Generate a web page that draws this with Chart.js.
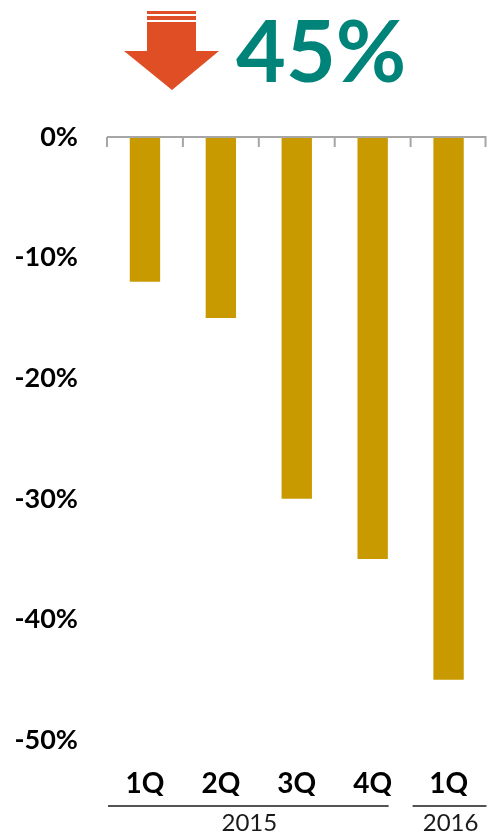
<!DOCTYPE html>
<html>
<head>
<meta charset="utf-8">
<script src="https://cdn.jsdelivr.net/npm/chart.js@4/dist/chart.umd.min.js"></script>
<style>
  html, body { margin: 0; padding: 0; background: #fff; }
  #wrap { position: relative; width: 495px; height: 836px; }
</style>
</head>
<body>
<div id="wrap"><canvas id="chart"></canvas></div>
<script>
// quarterly change
const categories = ['1Q', '2Q', '3Q', '4Q', '1Q'];
const values = [-12, -15, -30, -35, -45];
const yearLabels = ['2015', '2016'];
const yearSpans = [[0, 3], [4, 4]];
const headline = '45%';

const FONT = 'Lato, "Open Sans", sans-serif';

// header: red arrow + big teal number
const headerPlugin = {
    id: 'header',
    afterDraw(chart) {
        const ctx = chart.ctx;
        ctx.save();
        ctx.fillStyle = '#E04E26';
        ctx.fillRect(147, 11, 49, 3);
        ctx.fillRect(147, 16, 49, 4);
        ctx.beginPath();
        ctx.moveTo(147, 22);
        ctx.lineTo(196, 22);
        ctx.lineTo(196, 51);
        ctx.lineTo(219, 51);
        ctx.lineTo(172, 90);
        ctx.lineTo(124, 51);
        ctx.lineTo(147, 51);
        ctx.closePath();
        ctx.fill();

        ctx.fillStyle = '#00847A';
        ctx.font = 'bold 86px ' + FONT;
        ctx.textAlign = 'left';
        ctx.textBaseline = 'alphabetic';
        ctx.fillText(headline, 236, 82);
        ctx.restore();
    }
};

// zero line with tick marks between categories, plus year grouping under the axis
const axisPlugin = {
    id: 'axisDecor',
    afterDatasetsDraw(chart) {
        const ctx = chart.ctx;
        const x = chart.scales.x;
        const y = chart.scales.y;
        const y0 = y.getPixelForValue(0);
        const step = (x.right - x.left) / categories.length;

        ctx.save();
        ctx.strokeStyle = '#A6A6A6';
        ctx.lineWidth = 2;
        ctx.beginPath();
        ctx.moveTo(x.left, y0);
        ctx.lineTo(x.right, y0);
        for (let i = 0; i <= categories.length; i++) {
            const px = Math.min(x.left + i * step, x.right - 1);
            ctx.moveTo(px, y0);
            ctx.lineTo(px, y0 + 10);
        }
        ctx.stroke();

        // year groups
        const insets = [[1, 22], [2, 0]];
        const lineY = 806;
        ctx.strokeStyle = '#1a1a1a';
        ctx.lineWidth = 1.5;
        ctx.fillStyle = '#1a1a1a';
        ctx.font = '24px ' + FONT;
        ctx.textAlign = 'center';
        ctx.textBaseline = 'middle';
        yearSpans.forEach((span, i) => {
            const x1 = x.left + span[0] * step + insets[i][0];
            const x2 = x.left + (span[1] + 1) * step - insets[i][1];
            ctx.beginPath();
            ctx.moveTo(x1, lineY);
            ctx.lineTo(x2, lineY);
            ctx.stroke();
            ctx.fillText(yearLabels[i], (x1 + x2) / 2 + 1, 823);
        });
        ctx.restore();
    }
};

new Chart(document.getElementById('chart').getContext('2d'), {
    type: 'bar',
    data: {
        labels: categories,
        datasets: [{
            data: values,
            backgroundColor: '#C99A00',
            borderWidth: 0,
            barPercentage: 0.4,
            categoryPercentage: 1
        }]
    },
    options: {
        responsive: true,
        maintainAspectRatio: false,
        animation: false,
        layout: { padding: { top: 137, bottom: 40, left: 0, right: 0 } },
        plugins: {
            legend: { display: false },
            tooltip: { enabled: false }
        },
        scales: {
            x: {
                grid: { display: false, drawTicks: false },
                border: { display: false },
                ticks: {
                    color: '#000',
                    font: { family: FONT, size: 28, weight: 'bold' },
                    padding: 27,
                    maxRotation: 0
                },
                afterFit(s) { s.height = 56; }
            },
            y: {
                min: -50,
                max: 0,
                grid: { display: false, drawTicks: false },
                border: { display: false },
                ticks: {
                    stepSize: 10,
                    color: '#000',
                    font: { family: FONT, size: 27, weight: 'bold' },
                    padding: 29,
                    callback: v => v + '%'
                },
                afterFit(s) { s.width = 107; }
            }
        }
    },
    plugins: [headerPlugin, axisPlugin]
});
</script>
</body>
</html>
